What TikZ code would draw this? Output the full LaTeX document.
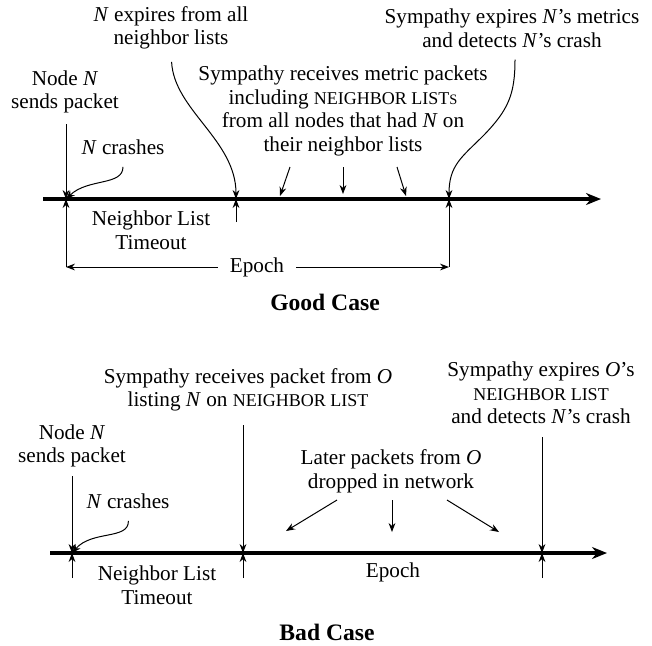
\documentclass[tikz,border=0pt]{standalone}
\usepackage{fontspec}
\setmainfont{Liberation Serif}
\usepackage{tikz}
\usetikzlibrary{arrows.meta}
\newcommand{\nsc}[1]{{\fontsize{9}{10}\selectfont #1}}

\begin{document}
\begin{tikzpicture}[x=0.5pt,y=-0.5pt,
	txt/.style={align=center,inner sep=0pt,font=\fontsize{10.6}{11.8}\selectfont},
	ttl/.style={inner sep=0pt,font=\fontsize{11.8}{13}\selectfont\bfseries},
	tline/.style={line width=2pt,-{Stealth[length=7.5pt,width=6pt]}},
	tick/.style={line width=0.5pt,-{Stealth[length=4.5pt,width=3.4pt]}}]
\useasboundingbox (0,0) rectangle (652,645);

% good case
\node[txt] (gnexp) at (171,28) {\textit{N} expires from all\\neighbor lists};
\node[txt] (gsexp) at (512,28) {Sympathy expires \textit{N}'s metrics\\and detects \textit{N}'s crash};
\node[txt] (gnode) at (65,92) {Node \textit{N}\\sends packet};
\node[txt] (grecv) at (343,111) {Sympathy receives metric packets\\including \nsc{NEIGHBOR LIST}{\fontsize{7.2}{8}\selectfont S}\\from all nodes that had \textit{N} on\\their neighbor lists};
\node[txt] (gcrash) at (123,147) {\textit{N} crashes};
\node[txt] (gnlt) at (151,230) {Neighbor List\\Timeout};
\node[txt,inner xsep=6pt] (gepoch) at (257,267) {Epoch};
\node[ttl] (gtitle) at (325,302) {Good Case};

\coordinate (g0) at (43,199);  \coordinate (g1) at (601,199);
\coordinate (gs) at (66,199);  \coordinate (ge) at (236,199);  \coordinate (gx) at (449,199);
\coordinate (gs-top) at (66,124);
\coordinate (gs-bot) at (66,267);
\coordinate (ge-bot) at (236,222);
\coordinate (gx-bot) at (449,267);
\coordinate (gr1) at (290,167); \coordinate (gr1e) at (280,196);
\coordinate (gr2) at (343,167); \coordinate (gr2e) at (343,194);
\coordinate (gr3) at (397,167); \coordinate (gr3e) at (406,196);

\draw[tline] (g0) -- (g1);
\draw[tick] (gs-top) -- (gs);
\draw[tick] (gs-bot) -- (gs);
\draw[tick] (ge-bot) -- (ge);
\draw[tick] (gx-bot) -- (gx);
\draw[tick] (gepoch) -- (gs-bot);
\draw[tick] (gepoch) -- (gx-bot);
\draw[tick,shorten <=6pt] (gnexp.south) .. controls (174,110) and (236,140) .. (ge);
\draw[tick,shorten <=6pt] (gsexp.south -| 515,0) .. controls (515,95) and (508,110) .. (484,135)
	.. controls (462,157) and (449,165) .. (gx);
\draw[tick,shorten <=6pt] (gcrash.south) .. controls (123,186) and (88,178) .. (gs);
\draw[tick] (gr1) -- (gr1e);
\draw[tick] (gr2) -- (gr2e);
\draw[tick] (gr3) -- (gr3e);

% bad case
\node[txt] (brecv) at (248,390) {Sympathy receives packet from \textit{O}\\listing \textit{N} on \nsc{NEIGHBOR LIST}};
\node[txt] (bexp) at (541,393) {Sympathy expires \textit{O}'s\\\nsc{NEIGHBOR LIST}\\and detects \textit{N}'s crash};
\node[txt] (bnode) at (72,446) {Node \textit{N}\\sends packet};
\node[txt] (blater) at (391,471) {Later packets from \textit{O}\\dropped in network};
\node[txt] (bcrash) at (128,501) {\textit{N} crashes};
\node[txt] (bnlt) at (157,585) {Neighbor List\\Timeout};
\node[txt] (bepoch) at (393,572) {Epoch};
\node[ttl] (btitle) at (327,632) {Bad Case};

\coordinate (b0) at (50,553);  \coordinate (b1) at (607,553);
\coordinate (bs) at (72,553);  \coordinate (be) at (243,553);  \coordinate (bx) at (542,553);
\coordinate (bs-top) at (72,476);
\coordinate (be-top) at (243,425);
\coordinate (bx-top) at (542,437);
\coordinate (bs-bot) at (72,578);
\coordinate (be-bot) at (243,578);
\coordinate (bx-bot) at (542,578);
\coordinate (bl1) at (337,500); \coordinate (bl1e) at (286,531);
\coordinate (bl2) at (392,500); \coordinate (bl2e) at (392,532);
\coordinate (bl3) at (447,500); \coordinate (bl3e) at (499,532);

\draw[tline] (b0) -- (b1);
\foreach \p in {bs,be,bx} {
	\draw[tick] (\p-top) -- (\p);
	\draw[tick] (\p-bot) -- (\p);
}
\draw[tick,shorten <=6pt] (bcrash.south) .. controls (129,540) and (92,530) .. (bs);
\draw[tick] (bl1) -- (bl1e);
\draw[tick] (bl2) -- (bl2e);
\draw[tick] (bl3) -- (bl3e);
\end{tikzpicture}
\end{document}
